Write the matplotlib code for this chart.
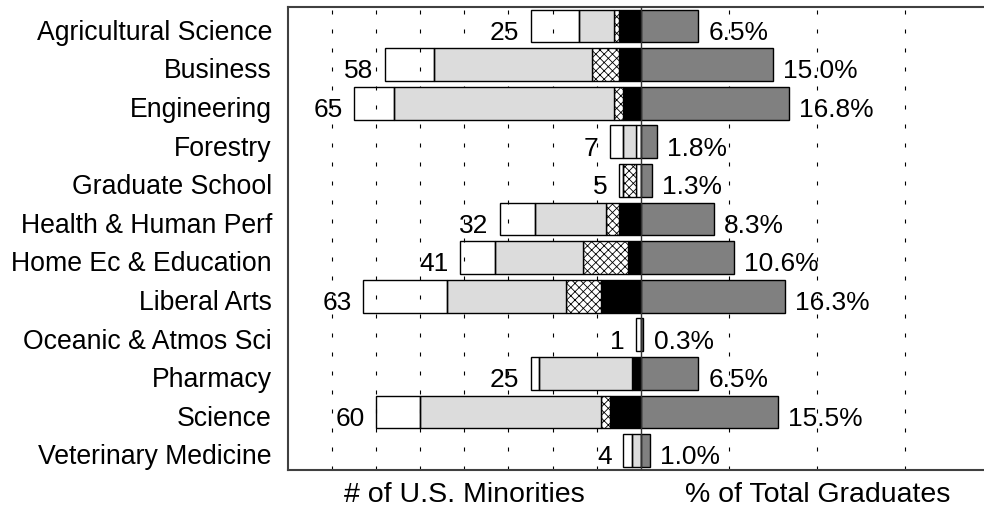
import numpy as np
import matplotlib.pyplot as plt
from matplotlib.transforms import blended_transform_factory

plt.rcParams['font.family'] = ['Liberation Sans', 'DejaVu Sans']
plt.rcParams['hatch.linewidth'] = 0.6

# 学院
categories = ["Agricultural Science", "Business", "Engineering", "Forestry",
              "Graduate School", "Health & Human Perf", "Home Ec & Education",
              "Liberal Arts", "Oceanic & Atmos Sci", "Pharmacy", "Science",
              "Veterinary Medicine"]
# 少数族裔人数 (按颜色分段, 由外到内)
seg_white = [11, 11, 9, 3, 1, 8, 8, 19, 0, 2, 10, 2]
seg_gray = [8, 36, 50, 3, 0, 16, 20, 27, 0, 21, 41, 2]
seg_hatch = [1, 6, 2, 0, 3, 3, 10, 8, 0, 0, 2, 0]
seg_black = [5, 5, 4, 0, 0, 5, 3, 9, 0, 2, 7, 0]
seg_other = [0, 0, 0, 1, 1, 0, 0, 0, 1, 0, 0, 0]
# 占毕业生总数百分比
pct_total = [6.5, 15.0, 16.8, 1.8, 1.3, 8.3, 10.6, 16.3, 0.3, 6.5, 15.5, 1.0]

PCT_SCALE = 2.0   # 右侧 1% 对应左侧 2 人的宽度
FS_VAL = 19
FS_CAT = 19.2
FS_AX = 20.5

fig = plt.figure(figsize=(9.84, 5.08), dpi=100)
ax = fig.add_axes([288 / 984, 1 - 470 / 508, 705.6 / 984, 463.3 / 508])

n = len(categories)
y = np.arange(n)
bh = 0.85

# 左侧堆叠条 (从中心向左)
start = np.zeros(n)
layers = [(seg_other, "none", None), (seg_black, "black", None),
          (seg_hatch, "white", "xxxx"), (seg_gray, "#dcdcdc", None),
          (seg_white, "none", None)]
for vals, fc, hatch in layers:
    v = np.array(vals, dtype=float)
    m = v > 0
    ax.barh(y[m], v[m], left=-(start[m] + v[m]), height=bh, color=fc,
            edgecolor="black", linewidth=1.0, hatch=hatch, zorder=3)
    start += v
totals = start

# 右侧百分比条
pv = np.array(pct_total) * PCT_SCALE
ax.barh(y, pv, left=0, height=bh, color="#808080", edgecolor="black",
        linewidth=1.0, zorder=3)

# 虚线网格
for gx in [-70, -60, -50, -40, -30, -20, -10, 20, 40, 60]:
    ax.axvline(gx, color="black", lw=0.8, linestyle=(0, (3.6, 13.5)), zorder=1)
ax.axvline(0, color="#333333", lw=1.0, zorder=6)

# 数值标注
dy = 0.356
for i in range(n):
    ax.text(-totals[i] - 2.6, i + dy, f"{int(totals[i])}", ha="right",
            va="baseline", fontsize=FS_VAL, zorder=2)
    ax.text(pv[i] + 2.3, i + dy, f"{pct_total[i]:.1f}%", ha="left",
            va="baseline", fontsize=FS_VAL, zorder=2)

trans = blended_transform_factory(ax.transAxes, ax.transData)
for i, c in enumerate(categories):
    ax.text(-0.0227, i + dy, c, transform=trans, ha="right", va="baseline",
            fontsize=FS_CAT)

tx = blended_transform_factory(ax.transData, ax.transAxes)
ax.text(-40, -0.0701, "# of U.S. Minorities", transform=tx, ha="center",
        va="baseline", fontsize=FS_AX)
ax.text(40, -0.0701, "% of Total Graduates", transform=tx, ha="center",
        va="baseline", fontsize=FS_AX)

ax.set_xlim(-80, 80)
ax.set_ylim(n - 0.5, -0.5)
ax.set_xticks([])
ax.set_yticks([])
for s in ax.spines.values():
    s.set_color("#404040")
    s.set_linewidth(1.5)

plt.savefig("out.png", dpi=100)
plt.close()
